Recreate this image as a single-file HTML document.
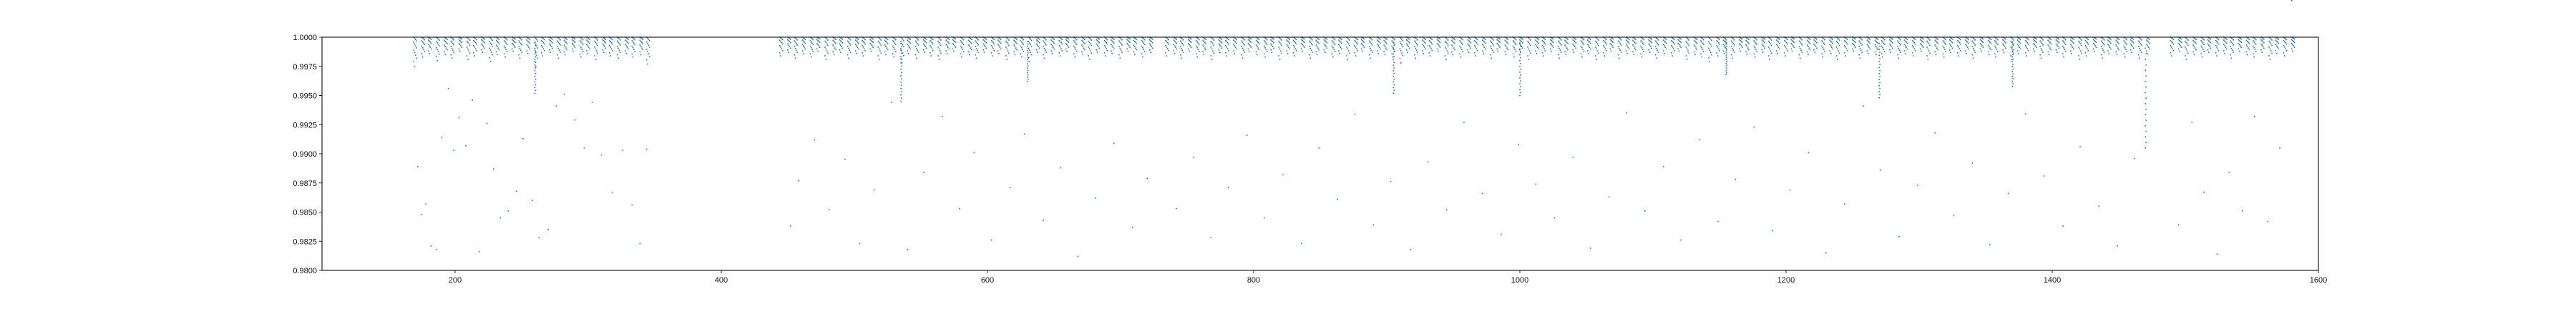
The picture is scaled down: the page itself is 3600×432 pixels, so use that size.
<!DOCTYPE html>
<html><head><meta charset="utf-8">
<style>
html,body{margin:0;padding:0;background:#fff;}
svg{display:block;font-family:"Liberation Sans","DejaVu Sans",sans-serif;}
</style></head>
<body>
<svg id="chart" width="3600" height="432" viewBox="0 0 3600 432" xmlns="http://www.w3.org/2000/svg">
<rect width="3600" height="432" fill="#fff"/>
<g id="marks"></g>
<g id="axes"></g>
</svg>
<script>
const xTicks = [200,400,600,800,1000,1200,1400,1600];
const yTicks = [0.98,0.9825,0.985,0.9875,0.99,0.9925,0.995,0.9975,1.0];
const bandX = [170,176,181,187,193,198,204,210,215,221,227,232,238,244,249,255,261,266,272,278,283,289,295,300,306,312,317,323,329,334,340,345,
445,451,456,462,468,473,479,485,490,496,502,507,513,519,524,530,536,541,547,553,558,564,570,575,581,587,592,598,604,609,615,621,626,632,638,643,649,655,660,666,672,677,683,689,694,700,706,711,717,723,
735,741,746,752,758,763,769,775,780,786,792,797,803,809,814,820,826,831,837,843,848,854,860,865,871,877,882,888,894,899,905,911,916,922,928,933,939,945,950,956,962,967,973,979,984,990,996,1001,1007,1013,1018,1024,1030,1035,1041,1047,1052,1058,1064,1069,1075,1081,1086,1092,1098,1103,1109,1115,1120,1126,1132,1137,1143,1149,1154,1160,1166,1171,1177,1183,1188,1194,1200,1205,1211,1217,1222,1228,1234,1239,1245,1251,1256,1262,1268,1273,1279,1285,1290,1296,1302,1307,1313,1319,1324,1330,1336,1341,1347,1353,1358,1364,1370,1375,1381,1387,1392,1398,1404,1409,1415,1421,1426,1432,1438,1443,1449,1455,1460,1466,1472,
1490,1496,1501,1507,1513,1518,1524,1530,1535,1541,1547,1552,1558,1564,1569,1575,1581];
const bandMin = [0.9975,0.9983,0.9986,0.9980,0.9985,0.9982,0.9988,0.9981,0.9984,0.9987,0.9979,0.9985,0.9983,0.9988,0.9982,0.9986,0.9975,0.9984,0.9987,0.9982,0.9985,0.9988,0.9983,0.9986,0.9981,0.9987,0.9984,0.9982,0.9986,0.9983,0.9985,0.9977,
0.9984,0.9987,0.9982,0.9986,0.9983,0.9988,0.9981,0.9985,0.9987,0.9982,0.9986,0.9984,0.9988,0.9981,0.9985,0.9983,0.9978,0.9986,0.9982,0.9987,0.9984,0.9981,0.9986,0.9988,0.9983,0.9985,0.9982,0.9987,0.9984,0.9986,0.9981,0.9985,0.9983,0.9979,0.9987,0.9982,0.9986,0.9984,0.9988,0.9983,0.9985,0.9981,0.9987,0.9984,0.9986,0.9982,0.9988,0.9985,0.9983,0.9987,
0.9984,0.9986,0.9982,0.9988,0.9983,0.9985,0.9981,0.9987,0.9984,0.9986,0.9982,0.9988,0.9985,0.9983,0.9987,0.9981,0.9986,0.9984,0.9988,0.9982,0.9985,0.9987,0.9983,0.9986,0.9981,0.9984,0.9988,0.9982,0.9986,0.9985,0.9983,0.9978,0.9987,0.9982,0.9986,0.9984,0.9988,0.9981,0.9985,0.9983,0.9987,0.9984,0.9986,0.9982,0.9988,0.9985,0.9983,0.9987,0.9981,0.9986,0.9984,0.9988,0.9982,0.9985,0.9987,0.9983,0.9986,0.9981,0.9984,0.9988,0.9982,0.9986,0.9985,0.9983,0.9987,0.9982,0.9986,0.9984,0.9988,0.9981,0.9985,0.9983,0.9979,0.9984,0.9986,0.9982,0.9988,0.9985,0.9983,0.9987,0.9981,0.9986,0.9984,0.9988,0.9982,0.9985,0.9987,0.9983,0.9986,0.9981,0.9984,0.9988,0.9982,0.9986,0.9985,0.9983,0.9987,0.9982,0.9986,0.9984,0.9988,0.9981,0.9985,0.9983,0.9987,0.9984,0.9986,0.9982,0.9988,0.9985,0.9983,0.9987,0.9981,0.9986,0.9984,0.9988,0.9982,0.9985,0.9987,0.9983,0.9986,0.9981,0.9984,0.9988,0.9982,0.9986,0.9985,0.9983,0.9987,0.9982,0.9986,0.9984,0.9988,0.9981,0.9985,0.9983,0.9987,0.9984,0.9986,
0.9982,0.9988,0.9985,0.9983,0.9987,0.9981,0.9986,0.9984,0.9988,0.9982,0.9985,0.9987,0.9983,0.9986,0.9981,0.9984,0.9983];
const bandFrac = [0.0,0.04,0.08,0.13,0.18,0.24,0.3,0.37,0.45,0.53,0.62,0.72,0.84,1.0];
const dipX = [260,535,630,905,1000,1155,1270,1370,1470];
const dipDepth = [0.9952,0.9945,0.9962,0.9952,0.9950,0.9968,0.9948,0.9958,0.9905];
const dipFrac = [0.1,0.15,0.2,0.25,0.3,0.35,0.4,0.45,0.5,0.55,0.6,0.65,0.7,0.75,0.8,0.85,0.9,0.95,1.0];
const scatterX = [172,175,178,182,186,190,195,199,203,208,213,218,224,229,234,240,246,251,258,263,270,276,282,290,297,303,310,318,326,333,339,344,
452,458,470,481,493,504,515,528,540,552,566,579,590,603,617,628,642,655,668,681,695,709,720,
742,755,768,781,795,808,822,836,849,863,876,890,903,918,931,945,958,972,986,999,1012,1026,1040,1053,1067,1080,1094,1108,1121,1135,1149,1162,1176,1190,1203,1217,1230,1244,1258,1271,1285,1299,1312,1326,1340,1353,1367,1380,1394,1408,1421,1435,1449,1462,
1495,1505,1514,1524,1533,1543,1552,1562,1571,1580];
const scatterY = [0.9889,0.9848,0.9857,0.9821,0.9818,0.9914,0.9956,0.9903,0.9931,0.9907,0.9946,0.9816,0.9926,0.9887,0.9845,0.9851,0.9868,0.9913,0.9860,0.9828,0.9835,0.9941,0.9951,0.9929,0.9905,0.9944,0.9899,0.9867,0.9903,0.9856,0.9823,0.9904,
0.9838,0.9877,0.9912,0.9852,0.9895,0.9823,0.9869,0.9944,0.9818,0.9884,0.9932,0.9853,0.9901,0.9826,0.9871,0.9917,0.9843,0.9888,0.9812,0.9862,0.9909,0.9837,0.9879,
0.9853,0.9897,0.9828,0.9871,0.9916,0.9845,0.9882,0.9823,0.9905,0.9861,0.9934,0.9839,0.9876,0.9818,0.9893,0.9852,0.9927,0.9866,0.9831,0.9908,0.9874,0.9845,0.9897,0.9819,0.9863,0.9935,0.9851,0.9889,0.9826,0.9912,0.9842,0.9878,0.9923,0.9834,0.9869,0.9901,0.9815,0.9857,0.9941,0.9886,0.9829,0.9873,0.9918,0.9847,0.9892,0.9822,0.9866,0.9934,0.9881,0.9838,0.9906,0.9855,0.9821,
0.9896,0.9839,0.9927,0.9867,0.9814,0.9884,0.9851,0.9932,0.9842,0.9905];

const X0=450, X1=3240, Y0=378, Y1=52;
const xMin=100, xMax=1600, yMin=0.98, yMax=1.0;
function sx(v){return X0+(v-xMin)/(xMax-xMin)*(X1-X0);}
function sy(v){return Y0-(v-yMin)/(yMax-yMin)*(Y0-Y1);}
const NS="http://www.w3.org/2000/svg";
const marks=document.getElementById('marks');
const axes=document.getElementById('axes');
const COL="#1f77b4";
function dot(x,y,name){
  const c=document.createElementNS(NS,'rect');
  c.setAttribute('x',(sx(x)-0.8).toFixed(1));
  c.setAttribute('y',(sy(y)-0.8).toFixed(1));
  c.setAttribute('width','1.6');c.setAttribute('height','1.6');
  c.setAttribute('fill',COL);
  
  
  marks.appendChild(c);
}
bandX.forEach((x,i)=>{
  const m=bandMin[i];
  bandFrac.forEach((f,j)=>{dot(x+(j%4-1.5)*0.7,1-(1-m)*f,'band-point');});
});
dipX.forEach((x,i)=>{
  const d=dipDepth[i];
  dipFrac.forEach((f,j)=>{dot(x+(j%2)*0.5,1-(1-d)*f,'dip-point');});
});
scatterX.forEach((x,i)=>{dot(x,scatterY[i],'scatter-point');});

const fr=document.createElementNS(NS,'rect');
fr.setAttribute('x',X0);fr.setAttribute('y',Y1);
fr.setAttribute('width',X1-X0);fr.setAttribute('height',Y0-Y1);
fr.setAttribute('fill','none');fr.setAttribute('stroke','#222');fr.setAttribute('stroke-width','1.2');


axes.appendChild(fr);
xTicks.forEach(v=>{
  const x=sx(v);
  const l=document.createElementNS(NS,'line');
  l.setAttribute('x1',x);l.setAttribute('x2',x);l.setAttribute('y1',Y0);l.setAttribute('y2',Y0+4);
  l.setAttribute('stroke','#222');
  
  
  axes.appendChild(l);
  const t=document.createElementNS(NS,'text');
  t.setAttribute('x',x);t.setAttribute('y',Y0+17);t.setAttribute('text-anchor','middle');
  t.setAttribute('font-size','11');t.setAttribute('fill','#111');
  t.textContent=String(v);
  
  
  axes.appendChild(t);
});
yTicks.forEach(v=>{
  const y=sy(v);
  const l=document.createElementNS(NS,'line');
  l.setAttribute('x1',X0-4);l.setAttribute('x2',X0);l.setAttribute('y1',y);l.setAttribute('y2',y);
  l.setAttribute('stroke','#222');
  
  
  axes.appendChild(l);
  const t=document.createElementNS(NS,'text');
  t.setAttribute('x',X0-7);t.setAttribute('y',y+4);t.setAttribute('text-anchor','end');
  t.setAttribute('font-size','11');t.setAttribute('fill','#111');
  t.textContent=v.toFixed(4);
  
  
  axes.appendChild(t);
});
</script>
</body></html>
